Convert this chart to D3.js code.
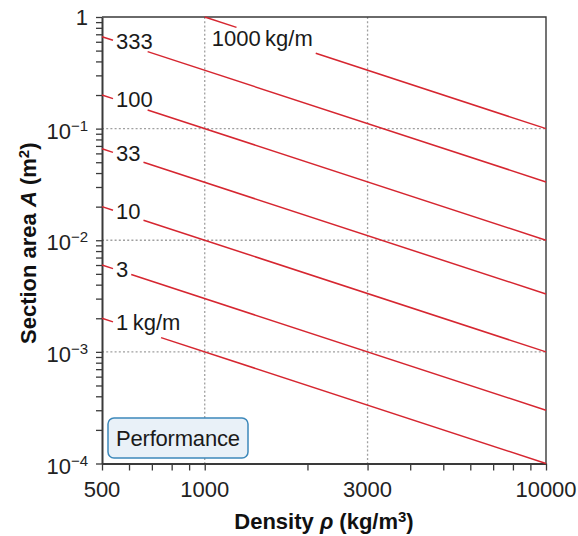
<!DOCTYPE html>
<html>
<head>
<meta charset="utf-8">
<script src="https://cdn.jsdelivr.net/npm/d3@7"></script>
<style>
  html, body { margin: 0; padding: 0; background: #fff; }
  svg { display: block; font-family: "Liberation Sans", Arial, Helvetica, sans-serif; }
</style>
</head>
<body>
<svg id="chart" width="578" height="536"></svg>
<script>
// Mass per unit length of each performance line (kg/m): A = m / rho
const massPerLength = [1, 3, 10, 33, 100, 333, 1000];
const lineLabels = ["1\u2009kg/m", "3", "10", "33", "100", "333", "1000\u2009kg/m"];

// Axis ticks
const xTickValues = [500, 1000, 3000, 10000];
const xGridValues = [1000, 3000];
const yTickExponents = [0, -1, -2, -3, -4];
const yGridValues = [1e-1, 1e-2, 1e-3];

const densityDomain = [500, 10000];
const areaDomain = [1e-4, 1];

const W = 578, H = 536;
const margin = { top: 17, right: 32, bottom: 72.5, left: 102 };
const x0 = margin.left, x1 = W - margin.right;
const y0 = margin.top, y1 = H - margin.bottom;

const svg = d3.select("#chart");
const x = d3.scaleLog().domain(densityDomain).range([x0, x1]);
const y = d3.scaleLog().domain(areaDomain).range([y1, y0]);

const RED = "#d62630";
const AXIS = "#3a3a3a";
const FS = 22;

// Tick positions 1..9 within each decade
function logTicks(lo, hi) {
  const out = [];
  for (let e = Math.floor(Math.log10(lo)); e <= Math.ceil(Math.log10(hi)); e++) {
    for (let k = 1; k <= 9; k++) {
      const v = k * Math.pow(10, e);
      if (v >= lo * 0.9999 && v <= hi * 1.0001) out.push(v);
    }
  }
  return out;
}

// Dotted grid
const grid = svg.append("g").attr("stroke", "#a0a0a0").attr("stroke-width", 1.3)
  .attr("stroke-dasharray", "2,2.2");
grid.selectAll("line.gx").data(xGridValues).join("line")
  .attr("x1", d => x(d)).attr("x2", d => x(d)).attr("y1", y0).attr("y2", y1);
grid.selectAll("line.gy").data(yGridValues).join("line")
  .attr("x1", x0).attr("x2", x1).attr("y1", d => y(d)).attr("y2", d => y(d));

// Frame: top and right edges
svg.append("path")
  .attr("d", `M${x0},${y0}H${x1}V${y1}`)
  .attr("fill", "none").attr("stroke", AXIS).attr("stroke-width", 1.4);

// Axes with every tick outward
const xAxis = d3.axisBottom(x).tickValues(logTicks(500, 10000)).tickFormat("").tickSize(7).tickSizeOuter(0);
const yAxis = d3.axisLeft(y).tickValues(logTicks(1e-4, 1)).tickFormat("").tickSize(6).tickSizeOuter(0);

const gx = svg.append("g").attr("transform", `translate(0,${y1})`).call(xAxis);
const gy = svg.append("g").attr("transform", `translate(${x0},0)`).call(yAxis);
[gx, gy].forEach(g => {
  g.select(".domain").attr("stroke", AXIS).attr("stroke-width", 2);
  g.selectAll(".tick line").attr("stroke", AXIS).attr("stroke-width", 1.3);
});

// X tick labels
svg.append("g").selectAll("text").data(xTickValues).join("text")
  .attr("x", d => x(d)).attr("y", y1 + 33.5)
  .attr("text-anchor", "middle").attr("font-size", FS).attr("fill", "#222")
  .text(d => d);

// Y tick labels: 1, 10^-1 ... 10^-4
const yl = svg.append("g").selectAll("text").data(yTickExponents).join("text")
  .attr("x", x0 - 14).attr("y", d => y(Math.pow(10, d)) + (d === 0 ? 8 : 10))
  .attr("text-anchor", "end").attr("font-size", FS).attr("fill", "#222");
yl.each(function(d) {
  const t = d3.select(this);
  if (d === 0) { t.text("1"); return; }
  t.append("tspan").text("10");
  t.append("tspan").attr("font-size", 15).attr("dy", -8).text("\u2212" + Math.abs(d));
});

// Performance lines, each broken where its label sits
const lines = svg.append("g");
const labels = svg.append("g");

massPerLength.forEach((m, i) => {
  const rhoStart = Math.max(densityDomain[0], m / areaDomain[1]);
  const rhoEnd = densityDomain[1];
  const xs = x(rhoStart), ys = y(m / rhoStart);
  const xe = x(rhoEnd), ye = y(m / rhoEnd);
  const lineY = px => ys + (ye - ys) * (px - xs) / (xe - xs);

  const fromEdge = rhoStart === densityDomain[0];
  const lx = xs + (fromEdge ? 14 : 7);
  const label = labels.append("text")
    .attr("x", lx).attr("font-size", FS).attr("fill", "#1a1a1a")
    .text(lineLabels[i]);
  const w = label.node().getComputedTextLength();
  const capH = 0.72 * FS;
  const centerY = fromEdge ? lineY(x0) + 4 : lineY(lx + w / 2) + 2.5;
  const baseline = centerY + capH / 2;
  label.attr("y", baseline);

  // Box around the glyphs, used to cut the line
  const pad = 3;
  const hasDesc = /g/.test(lineLabels[i]);
  const top = baseline - capH - pad;
  const bottom = baseline + (hasDesc ? 0.2 * FS : 0) + pad;
  const left = lx - pad, right = lx + w + pad;
  const xAt = py => xs + (py - ys) * (xe - xs) / (ye - ys);
  const gapStart = Math.max(left, xAt(top));
  const gapEnd = Math.min(right, xAt(bottom));

  const seg = (a, b) => lines.append("line")
    .attr("x1", a).attr("y1", lineY(a)).attr("x2", b).attr("y2", lineY(b))
    .attr("stroke", RED).attr("stroke-width", 1.5);
  seg(xs, gapStart);
  seg(gapEnd, xe);
});

// "Performance" tag
const tag = svg.append("g").attr("transform", `translate(${x0 + 6},${y1 - 45.5})`);
tag.append("rect").attr("width", 140).attr("height", 40).attr("rx", 6)
  .attr("fill", "#e9f1f8").attr("stroke", "#3c88ba").attr("stroke-width", 1.5);
tag.append("text").attr("x", 8).attr("y", 28).attr("font-size", FS).attr("fill", "#1a1a1a")
  .attr("textLength", 124).text("Performance");

// Axis titles
const xt = svg.append("text").attr("x", (x0 + x1) / 2).attr("y", H - 7)
  .attr("text-anchor", "middle").attr("font-size", FS).attr("font-weight", "bold")
  .attr("fill", "#111");
xt.append("tspan").text("Density ");
xt.append("tspan").attr("font-style", "italic").text("\u03c1");
xt.append("tspan").text(" (kg/m");
xt.append("tspan").attr("font-size", 15).attr("dy", -7).text("3");
xt.append("tspan").attr("dy", 7).text(")");

// Y title, centred on the plot height after measuring its run
const yt = svg.append("text")
  .attr("font-size", FS).attr("font-weight", "bold").attr("fill", "#111");
yt.append("tspan").text("Section area ");
yt.append("tspan").attr("font-style", "italic").text("A");
yt.append("tspan").text(" (m");
yt.append("tspan").attr("font-size", 15).attr("dy", -7).text("2");
yt.append("tspan").attr("dy", 7).text(")");
const yb = yt.node().getBBox();
const yMid = (y0 + y1) / 2 + 3;
yt.attr("transform", `translate(36,${yMid + yb.x + yb.width / 2}) rotate(-90)`);
</script>
</body>
</html>
